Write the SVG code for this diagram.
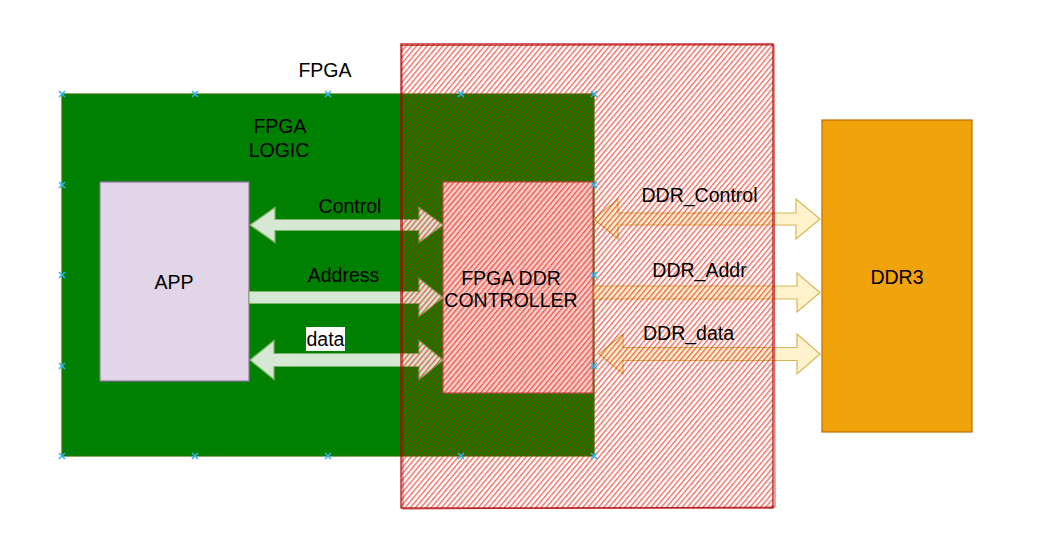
<svg xmlns="http://www.w3.org/2000/svg" xmlns:xlink="http://www.w3.org/1999/xlink" width="1038" height="556" viewBox="0 0 1038 556">
  <style>
    .t { font-family: "Liberation Sans", Arial, sans-serif; font-size: 19.5px; fill: #000000; text-anchor: middle; }
    .garrow { fill: #d5e8d4; stroke: #82b366; stroke-width: 1.2; }
    .yarrow { fill: #fff2cc; stroke: #d6b656; stroke-width: 1.2; }
    .mark { fill: none; stroke: #29b6f2; stroke-width: 1.5; }
  </style>
  <defs>
    <pattern id="hatch" patternUnits="userSpaceOnUse" width="4" height="10" patternTransform="rotate(40)">
      <line x1="0.7" y1="0" x2="0.7" y2="10" stroke="#e51400" stroke-width="1.2" stroke-opacity="0.72"/>
    </pattern>
    <path id="xm" d="M-3,-3 L3,3 M-3,3 L3,-3" class="mark"/>
  </defs>
  <rect width="1038" height="556" fill="#ffffff"/>

  <g id="fpga-logic">
    <rect x="62" y="94" width="532" height="362" fill="#008000" stroke="#2d7600" stroke-width="1.2"/>
  </g>
  <g id="app">
    <rect x="100" y="182" width="149" height="199" fill="#e1d5e7" stroke="#9673a6" stroke-width="1.2"/>
  </g>
  <g id="ddr-controller">
    <rect x="443" y="182" width="150" height="211" fill="#f8cecc" stroke="#b85450" stroke-width="1.2"/>
  </g>
  <g id="ddr3">
    <rect x="822" y="120" width="150" height="312" fill="#f0a30a" stroke="#bd7000" stroke-width="1.2"/>
  </g>

  <g id="connectors">
    <polygon class="garrow" points="250,225 275,207.5 275,219.5 419,219.5 419,207.5 443,225 419,242.5 419,230.5 275,230.5 275,242.5"/>
    <polygon class="garrow" points="249,291.5 419,291.5 419,278.5 443,297.5 419,316.5 419,303.5 249,303.5"/>
    <polygon class="garrow" points="250,360 274,340.5 274,353.5 419,353.5 419,340.5 443,360 419,379.5 419,366.5 274,366.5 274,379.5"/>
    <polygon class="yarrow" points="594,219 618,199 618,213 796,213 796,199 820,219 796,239 796,225 618,225 618,239"/>
    <polygon class="yarrow" points="594,286 797,286 797,273 820,292.5 797,312 797,299 594,299"/>
    <polygon class="yarrow" points="599,354 623,334 623,347.5 797,347.5 797,334 820,354 797,374 797,360.5 623,360.5 623,374"/>
  </g>

  <g id="fpga">
    <rect x="401" y="44" width="372" height="464" fill="url(#hatch)" stroke="none"/>
    <rect x="401" y="44" width="372" height="464" fill="none" stroke="#b20000" stroke-width="1.2"/>
    <path d="M402,45.5 L774,45 L775,507 L403,509 Z" fill="none" stroke="#b20000" stroke-width="1" stroke-opacity="0.7"/>
  </g>

  <g id="connection-marks">
    <use xlink:href="#xm" x="62" y="94"/>
    <use xlink:href="#xm" x="195" y="94"/>
    <use xlink:href="#xm" x="328" y="94"/>
    <use xlink:href="#xm" x="461" y="94"/>
    <use xlink:href="#xm" x="594" y="94"/>
    <use xlink:href="#xm" x="62" y="456"/>
    <use xlink:href="#xm" x="195" y="456"/>
    <use xlink:href="#xm" x="328" y="456"/>
    <use xlink:href="#xm" x="461" y="456"/>
    <use xlink:href="#xm" x="594" y="456"/>
    <use xlink:href="#xm" x="62" y="185"/>
    <use xlink:href="#xm" x="62" y="275"/>
    <use xlink:href="#xm" x="62" y="366"/>
    <use xlink:href="#xm" x="594" y="185"/>
    <use xlink:href="#xm" x="594" y="275"/>
    <use xlink:href="#xm" x="594" y="366"/>
  </g>

  <g id="labels">
    <text class="t" x="325" y="77">FPGA</text>
    <text class="t" x="280" y="133">FPGA</text>
    <text class="t" x="279" y="157">LOGIC</text>
    <text class="t" x="174" y="289">APP</text>
    <text class="t" x="511" y="285">FPGA DDR</text>
    <text class="t" x="511" y="307">CONTROLLER</text>
    <text class="t" x="897" y="284">DDR3</text>
    <text class="t" x="350" y="213">Control</text>
    <text class="t" x="343.5" y="282">Address</text>
    <rect x="306" y="327" width="39" height="24" fill="#ffffff"/>
    <text class="t" x="325.5" y="346">data</text>
    <text class="t" x="699.5" y="202">DDR_Control</text>
    <text class="t" x="699.5" y="277">DDR_Addr</text>
    <text class="t" x="688.5" y="340">DDR_data</text>
  </g>
</svg>
